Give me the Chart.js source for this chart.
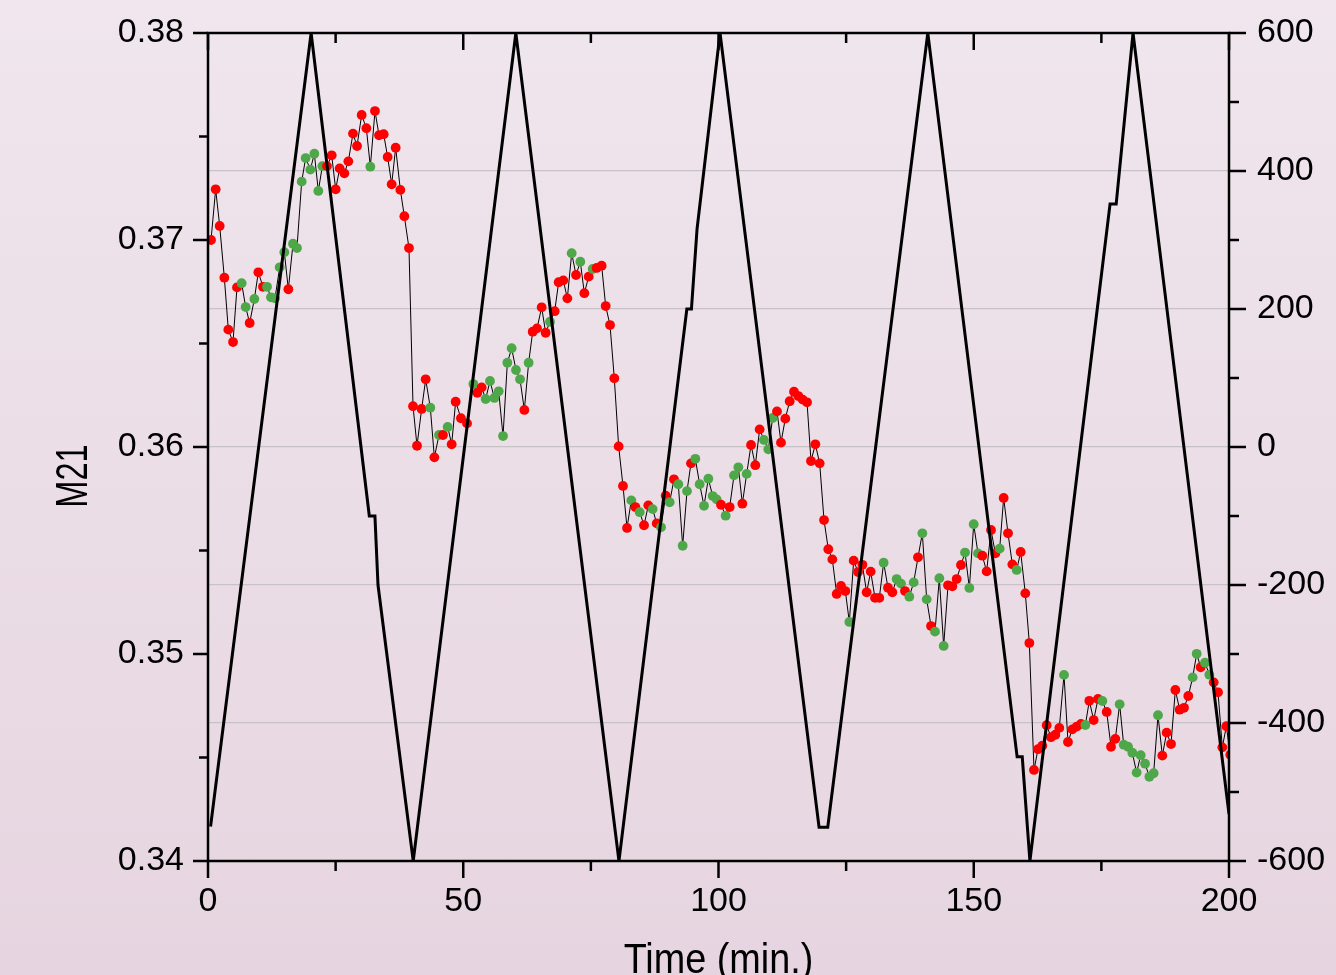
<!DOCTYPE html>
<html>
<head>
<meta charset="utf-8">
<title>M21</title>
<script src="https://cdn.jsdelivr.net/npm/chart.js@4.4.1/dist/chart.umd.min.js"></script>
<style>
  html, body { margin: 0; padding: 0; }
  body {
    width: 1336px; height: 975px; overflow: hidden;
    background: linear-gradient(#f0e6ed, #e6d5e0);
  }
  canvas { display: block; }
</style>
</head>
<body>
<canvas id="m21Chart" width="1336" height="975"></canvas>
<script>
// sample times (min.)
const times = [
  0.59, 1.50, 2.29, 3.20, 3.98, 4.90, 5.68, 6.59, 7.38, 8.16, 9.08, 9.86, 10.77, 11.56, 12.34,
  13.12, 14.04, 14.95, 15.74, 16.65, 17.43, 18.35, 19.13, 20.05, 20.83, 21.61, 22.40, 23.31, 24.23, 25.01,
  25.79, 26.71, 27.49, 28.40, 29.19, 30.10, 31.02, 31.80, 32.71, 33.50, 34.41, 35.19, 35.98, 36.76, 37.68,
  38.46, 39.37, 40.16, 40.94, 41.85, 42.64, 43.55, 44.34, 45.25, 46.03, 46.95, 47.73, 48.51, 49.55, 50.74,
  51.98, 52.76, 53.61, 54.39, 55.24, 56.09, 56.94, 57.79, 58.64, 59.48, 60.33, 61.12, 61.97, 62.81, 63.60,
  64.45, 65.36, 66.14, 66.99, 67.91, 68.69, 69.60, 70.39, 71.24, 72.09, 72.93, 73.72, 74.57, 75.35, 76.13,
  77.11, 77.90, 78.75, 79.59, 80.44, 81.29, 82.08, 82.92, 83.71, 84.56, 85.41, 86.25, 87.10, 87.89, 88.74,
  89.65, 90.43, 91.28, 92.13, 92.98, 93.83, 94.61, 95.46, 96.31, 97.16, 98.01, 98.86, 99.64,
  100.49, 101.40, 102.19, 103.04, 103.89, 104.67, 105.52, 106.37, 107.21, 108.06, 108.91, 109.76, 110.61, 111.46, 112.24,
  113.09, 113.94, 114.79, 115.64, 116.49, 117.34, 118.12, 118.97, 119.82, 120.67, 121.51, 122.30, 123.15, 124.00, 124.85,
  125.63, 126.48, 127.33, 128.18, 129.02, 129.81, 130.66, 131.50, 132.35, 133.20, 134.05, 134.90, 135.75, 136.53, 137.38,
  138.23, 139.08, 139.93, 140.78, 141.63, 142.41, 143.26, 144.11, 144.96, 145.80, 146.65, 147.50, 148.29, 149.14, 149.99,
  150.83, 151.68, 152.53, 153.38, 154.23, 155.08, 155.86, 156.71, 157.56, 158.41, 159.19, 160.10, 160.89, 161.80, 162.59,
  163.43, 164.28, 165.13, 165.98, 166.76, 167.68, 168.46, 169.31, 170.16, 171.01, 171.86, 172.64, 173.49, 174.34, 175.19,
  176.04, 176.89, 177.73, 178.58, 179.37, 180.22, 181.06, 181.91, 182.70, 183.55, 184.40, 185.24, 186.09, 186.94, 187.79,
  188.64, 189.49, 190.34, 191.19, 192.03, 192.88, 193.67, 194.45, 195.30, 196.15, 197.00, 197.85, 198.69, 199.48, 200.25
];

// M21 readings, one per sample time
const m21 = [
  0.37000, 0.37245, 0.37068, 0.36818, 0.36567, 0.36507, 0.36771, 0.36791, 0.36676, 0.36599,
  0.36715, 0.36844, 0.36774, 0.36774, 0.36723, 0.36718, 0.36868, 0.36941, 0.36762, 0.36982,
  0.36961, 0.37282, 0.37396, 0.37340, 0.37417, 0.37237, 0.37357, 0.37357, 0.37409, 0.37245,
  0.37346, 0.37322, 0.37380, 0.37514, 0.37454, 0.37604, 0.37540, 0.37354, 0.37623, 0.37506,
  0.37511, 0.37401, 0.37269, 0.37446, 0.37242, 0.37115, 0.36961, 0.36197, 0.36006, 0.36184,
  0.36327, 0.36190, 0.35950, 0.36058, 0.36058, 0.36097, 0.36013, 0.36219, 0.36139, 0.36114,
  0.36304, 0.36262, 0.36288, 0.36232, 0.36319, 0.36237, 0.36269, 0.36053, 0.36407, 0.36477,
  0.36372, 0.36327, 0.36179, 0.36407, 0.36557, 0.36573, 0.36675, 0.36552, 0.36605, 0.36656,
  0.36796, 0.36805, 0.36718, 0.36936, 0.36831, 0.36895, 0.36743, 0.36823, 0.36860, 0.36865,
  0.36876, 0.36681, 0.36589, 0.36332, 0.36003, 0.35812, 0.35609, 0.35742, 0.35710, 0.35685,
  0.35622, 0.35718, 0.35700, 0.35631, 0.35612, 0.35765, 0.35733, 0.35844, 0.35820, 0.35523,
  0.35787, 0.35921, 0.35943, 0.35820, 0.35716, 0.35847, 0.35763, 0.35747,
  0.35721, 0.35668, 0.35710, 0.35863, 0.35902, 0.35726, 0.35870, 0.36010, 0.35912, 0.36085,
  0.36034, 0.35989, 0.36140, 0.36172, 0.36021, 0.36137, 0.36221, 0.36267, 0.36246, 0.36229,
  0.36216, 0.35932, 0.36013, 0.35921, 0.35647, 0.35506, 0.35457, 0.35290, 0.35329, 0.35304,
  0.35155, 0.35451, 0.35396, 0.35431, 0.35298, 0.35398, 0.35271, 0.35271, 0.35441, 0.35320,
  0.35298, 0.35362, 0.35340, 0.35304, 0.35277, 0.35346, 0.35467, 0.35583, 0.35264, 0.35135,
  0.35108, 0.35366, 0.35039, 0.35332, 0.35327, 0.35362, 0.35430, 0.35490, 0.35319, 0.35627,
  0.35486, 0.35475, 0.35399, 0.35599, 0.35486, 0.35509, 0.35754, 0.35583, 0.35433, 0.35406,
  0.35493, 0.35293, 0.35053, 0.34440, 0.34540, 0.34557, 0.34656, 0.34598, 0.34610, 0.34643,
  0.34899, 0.34575, 0.34636, 0.34649, 0.34662, 0.34657, 0.34774, 0.34681, 0.34783, 0.34773,
  0.34720, 0.34552, 0.34590, 0.34757, 0.34562, 0.34552, 0.34523, 0.34427, 0.34511, 0.34470,
  0.34407, 0.34424, 0.34704, 0.34509, 0.34620, 0.34565, 0.34826, 0.34731, 0.34740, 0.34797,
  0.34887, 0.35001, 0.34936, 0.34958, 0.34900, 0.34863, 0.34815, 0.34549, 0.34651, 0.34513
];

// marker class per sample: r = red, g = green
const m21Marks = (
  'rrrrrrrggrgrrgggggrggggggggrrrrrrrrrrgrrrrrrrrrrrrrgrgrgrrrr' +
  'grrgggggggggrgrrrrgrrrrgrgrrgrrrrrrrrgrgrrgrgrgrgggrgggggg' +
  'rgrggrgrrrgggrrrrrrrrrrrrrrrrrgrrrrrrrgrrggrggrggrgggrrrrggg' +
  'grrrrgrrrgrrrrrrrrrrgrrrrgrrrgrrrggggggggggrrrrrrrggrggrrrrr'
).split('');

// applied field (right axis), corner points of the sweep
const fieldTimes  = [0.5, 20.2, 31.6, 32.7, 33.3, 40.2, 60.3, 80.5, 93.8, 94.7, 95.8, 100.3,
                     119.7, 121.4, 141.0, 158.5, 159.5, 161.0, 176.7, 177.9, 181.2, 200.0];
const fieldValues = [-550, 600, -100, -100, -200, -600, 600, -600, 200, 200, 316, 600,
                     -551, -551, 600, -449, -449, -600, 352, 352, 600, -532];

// axis ticks
const xMajor = [0, 50, 100, 150, 200];
const xMinor = [25, 75, 125, 175];
const leftMajor = [0.34, 0.35, 0.36, 0.37, 0.38];
const leftMinor = [0.345, 0.355, 0.365, 0.375];
const rightMajor = [-600, -400, -200, 0, 200, 400, 600];
const rightMinor = [-500, -300, -100, 100, 300, 500];

const RED = '#ff0000';
const GREEN = '#4ea84a';
const FONT = "'Liberation Sans', Arial, sans-serif";

const m21Points = times.map((t, i) => ({ x: t, y: m21[i] }));
const fieldPoints = fieldTimes.map((t, i) => ({ x: t, y: fieldValues[i] }));
const markColors = m21Marks.map(c => (c === 'g' ? GREEN : RED));

const tickFont = { family: FONT, size: 34 };

// narrow text helper: squeeze along the writing direction
function narrowText(ctx, text, x, y, size, squeeze, angle) {
  ctx.save();
  ctx.translate(x, y);
  ctx.rotate(angle);
  ctx.scale(squeeze, 1);
  ctx.font = size + 'px ' + FONT;
  ctx.textAlign = 'center';
  ctx.textBaseline = 'alphabetic';
  ctx.fillText(text, 0, 0);
  ctx.restore();
}

// frame, tick marks and axis titles
const frameAndTicks = {
  id: 'frameAndTicks',
  afterDraw(chart) {
    const { ctx, chartArea: a, scales } = chart;
    const sx = scales.x, sy = scales.y, sr = scales.y1;
    ctx.save();
    ctx.strokeStyle = '#000';
    ctx.lineWidth = 2.5;
    const seg = (x1, y1, x2, y2) => {
      ctx.beginPath(); ctx.moveTo(x1, y1); ctx.lineTo(x2, y2); ctx.stroke();
    };
    // bottom: outward, top: inward
    xMajor.forEach(v => {
      const p = sx.getPixelForValue(v);
      seg(p, a.bottom, p, a.bottom + 17);
      seg(p, a.top, p, a.top + 17);
    });
    xMinor.forEach(v => {
      const p = sx.getPixelForValue(v);
      seg(p, a.bottom, p, a.bottom + 10);
      seg(p, a.top, p, a.top + 10);
    });
    leftMajor.forEach(v => { const p = sy.getPixelForValue(v); seg(a.left - 15, p, a.left, p); });
    leftMinor.forEach(v => { const p = sy.getPixelForValue(v); seg(a.left - 9, p, a.left, p); });
    rightMajor.forEach(v => { const p = sr.getPixelForValue(v); seg(a.right, p, a.right + 17, p); });
    rightMinor.forEach(v => { const p = sr.getPixelForValue(v); seg(a.right, p, a.right + 10, p); });
    ctx.strokeRect(a.left, a.top, a.right - a.left, a.bottom - a.top);

    ctx.fillStyle = '#000';
    narrowText(ctx, 'Time (min.)', (a.left + a.right) / 2, 973, 42, 0.9, 0);
    narrowText(ctx, 'M21', 87, 476, 44, 0.74, -Math.PI / 2);
    ctx.restore();
  }
};

const fixBox = (w, h) => scale => {
  if (w !== null) scale.width = w;
  if (h !== null) scale.height = h;
  scale.paddingTop = 0; scale.paddingBottom = 0;
  scale.paddingLeft = 0; scale.paddingRight = 0;
};

new Chart(document.getElementById('m21Chart'), {
  type: 'line',
  data: {
    datasets: [
      {
        label: 'Field',
        data: fieldPoints,
        yAxisID: 'y1',
        borderColor: '#000',
        borderWidth: 3,
        pointRadius: 0,
        tension: 0,
        order: 0
      },
      {
        label: 'M21',
        data: m21Points,
        yAxisID: 'y',
        borderColor: '#000',
        borderWidth: 1,
        pointRadius: 4.9,
        pointBorderWidth: 0,
        pointBackgroundColor: markColors,
        pointBorderColor: markColors,
        tension: 0,
        order: 1
      }
    ]
  },
  options: {
    responsive: false,
    animation: false,
    events: [],
    layout: { padding: { top: 33, left: 0, right: 0, bottom: 0 } },
    plugins: { legend: { display: false }, tooltip: { enabled: false } },
    scales: {
      x: {
        type: 'linear', position: 'bottom', min: 0, max: 200,
        afterBuildTicks: s => { s.ticks = xMajor.map(v => ({ value: v })); },
        ticks: { font: tickFont, color: '#000', padding: 20, maxRotation: 0 },
        grid: { display: false, drawTicks: false },
        border: { display: false },
        afterFit: fixBox(null, 114)
      },
      y: {
        type: 'linear', position: 'left', min: 0.34, max: 0.38,
        afterBuildTicks: s => { s.ticks = leftMajor.map(v => ({ value: v })); },
        ticks: { font: tickFont, color: '#000', padding: 24, callback: v => v.toFixed(2) },
        grid: { display: false, drawTicks: false },
        border: { display: false },
        afterFit: fixBox(208, null)
      },
      y1: {
        type: 'linear', position: 'right', min: -600, max: 600,
        afterBuildTicks: s => { s.ticks = rightMajor.map(v => ({ value: v })); },
        ticks: { font: tickFont, color: '#000', padding: 28, callback: v => String(v) },
        grid: { color: '#c6c2c5', lineWidth: 1.2, drawTicks: false, drawOnChartArea: true },
        border: { display: false },
        afterFit: fixBox(107, null)
      }
    }
  },
  plugins: [frameAndTicks]
});
</script>
</body>
</html>
